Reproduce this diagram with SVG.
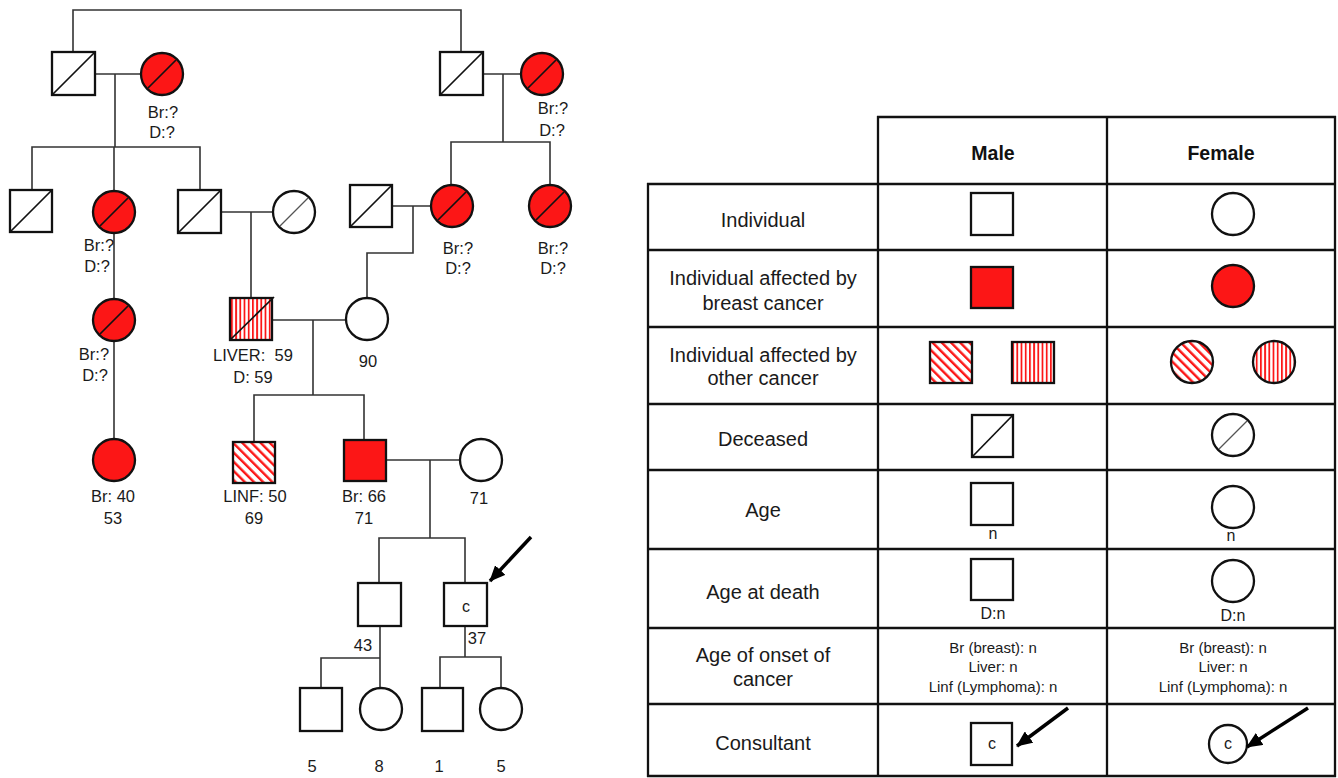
<svg xmlns="http://www.w3.org/2000/svg" width="1338" height="778" viewBox="0 0 1338 778">
<style>
.sym{stroke:#111;stroke-width:2.3;fill:#fff}
.red{fill:#fc1616}
.hd{fill:url(#diag)}
.hv{fill:url(#vert)}
.dec{stroke:#111;stroke-width:1.7}
.decg{stroke:#555;stroke-width:1.3}
.con{stroke:#333;stroke-width:1.6;fill:none}
.grid{stroke:#111;stroke-width:2.3;fill:none}
.arr{stroke:#000;stroke-width:3.5;fill:none}
text{font-family:"Liberation Sans",Arial,sans-serif;fill:#1a1a1a;text-anchor:middle}
.pt{font-size:16.5px;white-space:pre}
.lbl{font-size:20px}
.hdr{font-size:19.5px;font-weight:bold;fill:#111}
.sm{font-size:15px}
.c{font-size:16px}
.n{font-size:16px}
</style>
<defs>
<pattern id="diag" patternUnits="userSpaceOnUse" width="6.5" height="6.5" patternTransform="rotate(-45)">
<rect width="6.5" height="6.5" fill="#fff"/>
<rect width="2.4" height="6.5" fill="#fc1616"/>
</pattern>
<pattern id="vert" patternUnits="userSpaceOnUse" width="4.2" height="10">
<rect width="4.2" height="10" fill="#fff"/>
<rect width="1.8" height="10" fill="#fc1616"/>
</pattern>
<marker id="ah" markerUnits="userSpaceOnUse" markerWidth="16" markerHeight="14" refX="15" refY="7" orient="auto">
<path d="M0,0 L16,7 L0,14 z" fill="#000"/>
</marker>
</defs>

<g id="connectors">
<polyline class="con" points="73,52 73,10 461,10 461,52"/>
<line class="con" x1="95" y1="74" x2="141" y2="74"/>
<line class="con" x1="115" y1="74" x2="115" y2="147"/>
<polyline class="con" points="32,190 32,147 200,147 200,190"/>
<line class="con" x1="114" y1="147" x2="114" y2="191"/>
<line class="con" x1="483" y1="74" x2="521" y2="74"/>
<line class="con" x1="503" y1="74" x2="503" y2="142"/>
<polyline class="con" points="451,186 451,142 550,142 550,185"/>
<line class="con" x1="221" y1="212" x2="273" y2="212"/>
<line class="con" x1="251" y1="212" x2="251" y2="298"/>
<line class="con" x1="392" y1="206" x2="431" y2="206"/>
<polyline class="con" points="413,206 413,253 367,253 367,298"/>
<line class="con" x1="114" y1="233" x2="114" y2="299"/>
<line class="con" x1="114" y1="341" x2="114" y2="439"/>
<line class="con" x1="272" y1="320" x2="346" y2="320"/>
<line class="con" x1="313" y1="320" x2="313" y2="395"/>
<polyline class="con" points="254,442 254,395 364,395 364,440"/>
<line class="con" x1="386" y1="460" x2="460" y2="460"/>
<line class="con" x1="430" y1="460" x2="430" y2="538"/>
<polyline class="con" points="379,583 379,538 465,538 465,583"/>
<line class="con" x1="380" y1="626" x2="380" y2="688"/>
<polyline class="con" points="321,688 321,658 380,658"/>
<line class="con" x1="465" y1="626" x2="465" y2="657"/>
<polyline class="con" points="440,688 440,657 501,657 501,688"/>
<line class="arr" x1="531" y1="537" x2="490" y2="581" marker-end="url(#ah)"/>
</g>

<g id="I1"><rect class="sym" x="52" y="52" width="43" height="43"/><line class="dec" x1="52" y1="95" x2="95" y2="52"/></g>
<g id="I2"><circle class="sym red" cx="162" cy="74" r="21"/><line class="dec" x1="148" y1="88" x2="176" y2="60"/>
<text class="pt" x="163" y="118">Br:?</text><text class="pt" x="162" y="138">D:?</text></g>
<g id="I3"><rect class="sym" x="440" y="52" width="43" height="43"/><line class="dec" x1="440" y1="95" x2="483" y2="52"/></g>
<g id="I4"><circle class="sym red" cx="542" cy="74" r="21"/><line class="dec" x1="528" y1="88" x2="556" y2="60"/>
<text class="pt" x="553" y="114">Br:?</text><text class="pt" x="552" y="136">D:?</text></g>

<g id="II1"><rect class="sym" x="10" y="190" width="42" height="42"/><line class="dec" x1="10" y1="232" x2="52" y2="190"/></g>
<g id="II2"><circle class="sym red" cx="114" cy="212" r="21"/><line class="dec" x1="100" y1="226" x2="128" y2="198"/>
<text class="pt" x="99" y="251">Br:?</text><text class="pt" x="97" y="272">D:?</text></g>
<g id="II3"><rect class="sym" x="178" y="190" width="43" height="43"/><line class="dec" x1="178" y1="233" x2="221" y2="190"/></g>
<g id="II4"><circle class="sym" cx="294" cy="212" r="21"/><line class="decg" x1="280" y1="226" x2="308" y2="198"/></g>
<g id="II5"><rect class="sym" x="350" y="185" width="42" height="42"/><line class="dec" x1="350" y1="227" x2="392" y2="185"/></g>
<g id="II6"><circle class="sym red" cx="452" cy="206" r="21"/><line class="dec" x1="438" y1="220" x2="466" y2="192"/>
<text class="pt" x="458" y="254">Br:?</text><text class="pt" x="458" y="274">D:?</text></g>
<g id="II7"><circle class="sym red" cx="550" cy="206" r="21"/><line class="dec" x1="536" y1="220" x2="564" y2="192"/>
<text class="pt" x="553" y="254">Br:?</text><text class="pt" x="553" y="274">D:?</text></g>

<g id="III1"><circle class="sym red" cx="114" cy="320" r="21"/><line class="dec" x1="100" y1="334" x2="128" y2="306"/>
<text class="pt" x="94" y="360">Br:?</text><text class="pt" x="95" y="381">D:?</text></g>
<g id="III2"><rect class="sym hv" x="230" y="298" width="42" height="42"/><line class="dec" x1="230" y1="340" x2="274" y2="297"/>
<text class="pt" x="253" y="361" xml:space="preserve">LIVER:  59</text><text class="pt" x="253" y="383">D: 59</text></g>
<g id="III3"><circle class="sym" cx="367" cy="319" r="21"/><text class="pt" x="368" y="367">90</text></g>

<g id="IV1"><circle class="sym red" cx="114" cy="460" r="21"/><text class="pt" x="113" y="502">Br: 40</text><text class="pt" x="113" y="524">53</text></g>
<g id="IV2"><rect class="sym hd" x="233" y="442" width="42" height="41"/><text class="pt" x="255" y="502">LINF: 50</text><text class="pt" x="254" y="524">69</text></g>
<g id="IV3"><rect class="sym red" x="344" y="440" width="42" height="41"/><text class="pt" x="364" y="502">Br: 66</text><text class="pt" x="364" y="524">71</text></g>
<g id="IV4"><circle class="sym" cx="481" cy="460" r="21"/><text class="pt" x="479" y="504">71</text></g>

<g id="V1"><rect class="sym" x="358" y="583" width="43" height="43"/><text class="pt" x="363" y="651">43</text></g>
<g id="V2"><rect class="sym" x="444" y="583" width="43" height="43"/><text class="c" x="466" y="612">c</text><text class="pt" x="477" y="644">37</text></g>

<g id="VI1"><rect class="sym" x="300" y="688" width="42" height="43"/><text class="pt" x="312" y="772">5</text></g>
<g id="VI2"><circle class="sym" cx="381" cy="709" r="21"/><text class="pt" x="379" y="772">8</text></g>
<g id="VI3"><rect class="sym" x="422" y="688" width="41" height="43"/><text class="pt" x="439" y="772">1</text></g>
<g id="VI4"><circle class="sym" cx="501" cy="709" r="21"/><text class="pt" x="501" y="772">5</text></g>

<g id="legend">
<g id="grid">
<line class="grid" x1="877" y1="117" x2="1336" y2="117"/>
<line class="grid" x1="647" y1="184" x2="1336" y2="184"/>
<line class="grid" x1="648" y1="183" x2="648" y2="777"/>
<line class="grid" x1="878" y1="116" x2="878" y2="777"/>
<line class="grid" x1="1107" y1="116" x2="1107" y2="777"/>
<line class="grid" x1="1335" y1="116" x2="1335" y2="777"/>
<line class="grid" x1="647" y1="250" x2="1336" y2="250"/>
<line class="grid" x1="647" y1="327" x2="1336" y2="327"/>
<line class="grid" x1="647" y1="404" x2="1336" y2="404"/>
<line class="grid" x1="647" y1="470" x2="1336" y2="470"/>
<line class="grid" x1="647" y1="549" x2="1336" y2="549"/>
<line class="grid" x1="647" y1="628" x2="1336" y2="628"/>
<line class="grid" x1="647" y1="704" x2="1336" y2="704"/>
<line class="grid" x1="647" y1="776" x2="1336" y2="776"/>
</g>
<text class="hdr" x="993" y="160">Male</text>
<text class="hdr" x="1221" y="160">Female</text>

<text class="lbl" x="763" y="227">Individual</text>
<text class="lbl" x="763" y="285">Individual affected by</text>
<text class="lbl" x="763" y="310">breast cancer</text>
<text class="lbl" x="763" y="362">Individual affected by</text>
<text class="lbl" x="763" y="385">other cancer</text>
<text class="lbl" x="763" y="446">Deceased</text>
<text class="lbl" x="763" y="517">Age</text>
<text class="lbl" x="763" y="599">Age at death</text>
<text class="lbl" x="763" y="662">Age of onset of</text>
<text class="lbl" x="763" y="686">cancer</text>
<text class="lbl" x="763" y="750">Consultant</text>

<g id="L-ind-m"><rect class="sym" x="971" y="193" width="42" height="42"/></g>
<g id="L-ind-f"><circle class="sym" cx="1233" cy="214" r="21"/></g>
<g id="L-br-m"><rect class="sym red" x="971" y="267" width="42" height="41"/></g>
<g id="L-br-f"><circle class="sym red" cx="1233" cy="286" r="21"/></g>
<g id="L-oth-m"><rect class="sym hd" x="930" y="342" width="42" height="41"/><rect class="sym hv" x="1012" y="342" width="42" height="41"/></g>
<g id="L-oth-f"><circle class="sym hd" cx="1192" cy="362" r="21"/><circle class="sym hv" cx="1274" cy="362" r="21"/></g>
<g id="L-dec-m"><rect class="sym" x="972" y="415" width="41" height="42"/><line class="dec" x1="972" y1="457" x2="1013" y2="415"/></g>
<g id="L-dec-f"><circle class="sym" cx="1233" cy="435" r="21"/><line class="decg" x1="1219" y1="449" x2="1247" y2="421"/></g>
<g id="L-age-m"><rect class="sym" x="971" y="483" width="42" height="42"/><text class="n" x="993" y="539">n</text></g>
<g id="L-age-f"><circle class="sym" cx="1233" cy="507" r="21"/><text class="n" x="1231" y="541">n</text></g>
<g id="L-death-m"><rect class="sym" x="971" y="559" width="42" height="41"/><text class="n" x="993" y="619">D:n</text></g>
<g id="L-death-f"><circle class="sym" cx="1233" cy="581" r="21"/><text class="n" x="1233" y="621">D:n</text></g>
<g id="L-onset-m"><text class="sm" x="993" y="653">Br (breast): n</text><text class="sm" x="993" y="672">Liver: n</text><text class="sm" x="993" y="692">Linf (Lymphoma): n</text></g>
<g id="L-onset-f"><text class="sm" x="1223" y="653">Br (breast): n</text><text class="sm" x="1223" y="672">Liver: n</text><text class="sm" x="1223" y="692">Linf (Lymphoma): n</text></g>
<g id="L-cons-m"><rect class="sym" x="971" y="723" width="41" height="42"/><text class="c" x="992" y="749">c</text>
<line class="arr" x1="1068" y1="708" x2="1017" y2="746" marker-end="url(#ah)"/></g>
<g id="L-cons-f"><circle class="sym" cx="1228" cy="744" r="19"/><text class="c" x="1228" y="749">c</text>
<line class="arr" x1="1308" y1="708" x2="1247" y2="747" marker-end="url(#ah)"/></g>
</g>
</svg>
